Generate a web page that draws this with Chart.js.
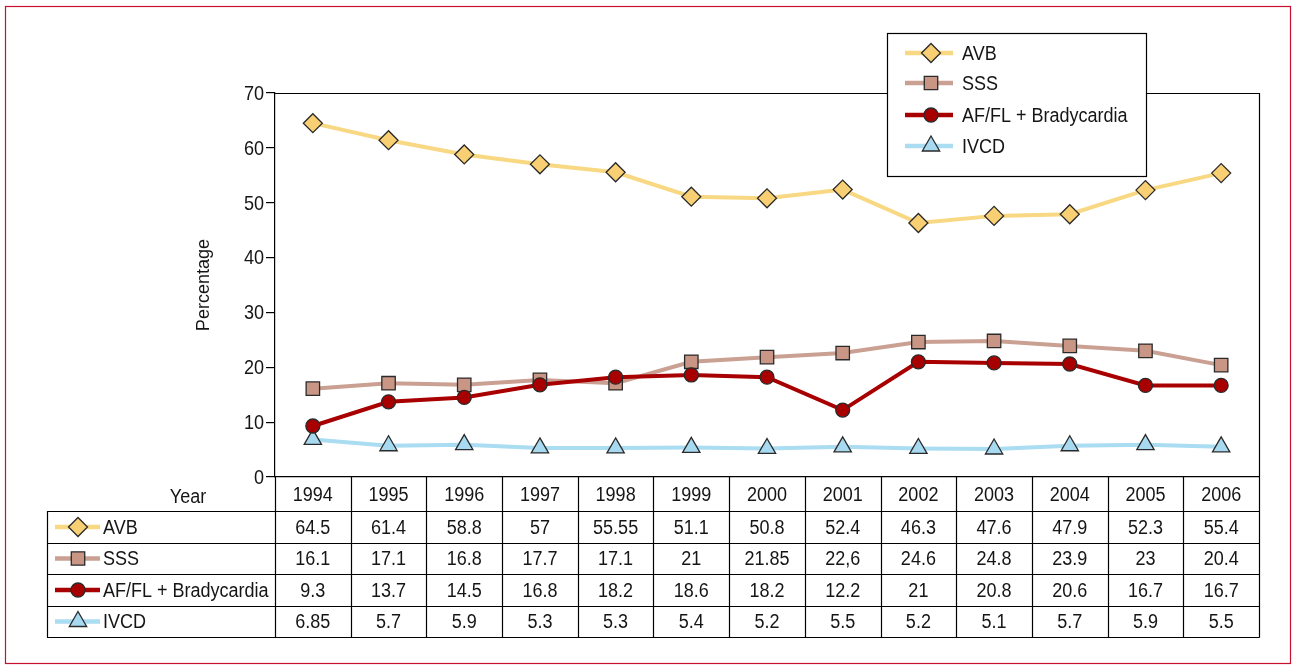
<!DOCTYPE html>
<html>
<head>
<meta charset="utf-8">
<script src="https://cdn.jsdelivr.net/npm/chart.js@4"></script>
<style>
  html, body { margin: 0; padding: 0; background: #fff; }
  #wrap { width: 1297px; height: 669px; position: relative; }
</style>
</head>
<body>
<div id="wrap"><canvas id="chart"></canvas></div>
<script>
// Data
const years = ['1994', '1995', '1996', '1997', '1998', '1999', '2000', '2001', '2002', '2003', '2004', '2005', '2006'];
const avb = [64.5, 61.4, 58.8, 57, 55.55, 51.1, 50.8, 52.4, 46.3, 47.6, 47.9, 52.3, 55.4];
const sss = [16.1, 17.1, 16.8, 17.7, 17.1, 21, 21.85, 22.6, 24.6, 24.8, 23.9, 23, 20.4];
const afl = [9.3, 13.7, 14.5, 16.8, 18.2, 18.6, 18.2, 12.2, 21, 20.8, 20.6, 16.7, 16.7];
const ivcd = [6.85, 5.7, 5.9, 5.3, 5.3, 5.4, 5.2, 5.5, 5.2, 5.1, 5.7, 5.9, 5.5];
// Table text as printed (keeps the original formatting, e.g. "22,6")
const avbText = ['64.5', '61.4', '58.8', '57', '55.55', '51.1', '50.8', '52.4', '46.3', '47.6', '47.9', '52.3', '55.4'];
const sssText = ['16.1', '17.1', '16.8', '17.7', '17.1', '21', '21.85', '22,6', '24.6', '24.8', '23.9', '23', '20.4'];
const aflText = ['9.3', '13.7', '14.5', '16.8', '18.2', '18.6', '18.2', '12.2', '21', '20.8', '20.6', '16.7', '16.7'];
const ivcdText = ['6.85', '5.7', '5.9', '5.3', '5.3', '5.4', '5.2', '5.5', '5.2', '5.1', '5.7', '5.9', '5.5'];
const yTicks = [0, 10, 20, 30, 40, 50, 60, 70];

const FONT = "'Liberation Sans', Arial, sans-serif";
const EDGE = '#2a2a2a';
const INK = '#151515';

const series = [
    { label: 'AVB', data: avb, text: avbText, line: '#f9d883', fill: '#f8cf72', style: 'rectRot', radius: 9.5, order: 0 },
    { label: 'SSS', data: sss, text: sssText, line: '#c9a092', fill: '#c99686', style: 'rect', radius: 9.5, order: 2 },
    { label: 'AF/FL + Bradycardia', data: afl, text: aflText, line: '#a80000', fill: '#a80000', style: 'circle', radius: 7, order: 1 },
    { label: 'IVCD', data: ivcd, text: ivcdText, line: '#aadcf2', fill: '#a7daf0', style: 'triangle', radius: 10, order: 3 }
];

// condensed look: squeeze a regular sans horizontally
function narrowText(ctx, str, x, y, align, size, squeeze) {
    ctx.save();
    ctx.font = size + 'px ' + FONT;
    ctx.fillStyle = INK;
    ctx.textAlign = align;
    ctx.textBaseline = 'middle';
    ctx.translate(x, y);
    ctx.scale(squeeze, 1);
    ctx.fillText(str, 0, 0);
    ctx.restore();
}

function drawMarker(ctx, s, x, y) {
    ctx.fillStyle = s.fill;
    ctx.strokeStyle = EDGE;
    ctx.lineWidth = 1.3;
    Chart.helpers.drawPoint(ctx, {
        pointStyle: s.style,
        radius: s.radius,
        borderWidth: 1.3,
        rotation: 0
    }, x, y);
}

function drawSample(ctx, s, x1, x2, mx, y) {
    ctx.strokeStyle = s.line;
    ctx.lineWidth = 4.5;
    ctx.beginPath();
    ctx.moveTo(x1, y);
    ctx.lineTo(x2, y);
    ctx.stroke();
    drawMarker(ctx, s, mx, y);
}

// Frame, plot box, legend and data table
const extras = {
    id: 'extras',
    beforeDraw(chart) {
        const ctx = chart.ctx;
        ctx.save();
        ctx.strokeStyle = '#c8102e';
        ctx.lineWidth = 1.2;
        ctx.strokeRect(5.5, 6.5, 1285, 657);
        ctx.restore();
    },
    afterDraw(chart) {
        const ctx = chart.ctx;
        const area = chart.chartArea;
        const xs = chart.scales.x;
        const ys = chart.scales.y;
        ctx.save();

        // top and right edges of the plot
        ctx.strokeStyle = '#000';
        ctx.lineWidth = 1.2;
        ctx.beginPath();
        ctx.moveTo(area.left, area.top + 0.5);
        ctx.lineTo(area.right + 0.5, area.top + 0.5);
        ctx.lineTo(area.right + 0.5, area.bottom);
        ctx.stroke();

        // y tick labels
        yTicks.forEach(v => {
            narrowText(ctx, String(v), 264, ys.getPixelForValue(v) + 1, 'right', 21, 0.86);
        });

        // y axis title
        ctx.save();
        ctx.translate(204, 285);
        ctx.rotate(-Math.PI / 2);
        narrowText(ctx, 'Percentage', 0, 0, 'center', 19, 0.95);
        ctx.restore();

        // legend box
        ctx.fillStyle = '#fff';
        ctx.fillRect(887, 33, 260, 144);
        ctx.strokeStyle = '#000';
        ctx.lineWidth = 1.2;
        ctx.strokeRect(887.5, 33.5, 259, 143);
        const legendY = [53, 83, 115, 146];
        series.forEach((s, i) => {
            const y = legendY[i];
            drawSample(ctx, s, 905, 953, 931, y);
            narrowText(ctx, s.label, 962, y + 1, 'left', 20, 0.9);
        });

        // data table
        const tLeft = 47, tRight = area.right + 0.5;
        const rowLines = [area.bottom, 511, 543, 574, 606, 637];
        const colW = (area.right - area.left) / years.length;
        ctx.strokeStyle = '#000';
        ctx.lineWidth = 1.2;
        ctx.beginPath();
        for (let r = 1; r < rowLines.length; r++) {
            ctx.moveTo(tLeft, rowLines[r] + 0.5);
            ctx.lineTo(tRight, rowLines[r] + 0.5);
        }
        ctx.moveTo(tLeft + 0.5, rowLines[1]);
        ctx.lineTo(tLeft + 0.5, rowLines[5] + 0.5);
        for (let c = 0; c <= years.length; c++) {
            const x = Math.round(area.left + c * colW) + 0.5;
            ctx.moveTo(x, area.bottom);
            ctx.lineTo(x, rowLines[5] + 0.5);
        }
        ctx.stroke();

        narrowText(ctx, 'Year', 188, 497, 'center', 20, 0.9);
        years.forEach((yr, i) => {
            const cx = xs.getPixelForValue(i);
            narrowText(ctx, yr, cx, 495, 'center', 20, 0.9);
            series.forEach((s, r) => {
                const cy = (rowLines[r + 1] + rowLines[r + 2]) / 2 + 1;
                narrowText(ctx, s.text[i], cx, cy, 'center', 20, 0.9);
            });
        });
        series.forEach((s, r) => {
            const cy = (rowLines[r + 1] + rowLines[r + 2]) / 2;
            drawSample(ctx, s, 55, 100, 78, cy);
            narrowText(ctx, s.label, 103, cy + 1, 'left', 20, 0.9);
        });
        ctx.restore();
    }
};

new Chart(document.getElementById('chart'), {
    type: 'line',
    data: {
        labels: years,
        datasets: series.map(s => ({
            label: s.label,
            data: s.data,
            order: s.order,
            borderColor: s.line,
            borderWidth: 4,
            backgroundColor: s.fill,
            pointStyle: s.style,
            pointRadius: s.radius,
            pointHoverRadius: s.radius,
            pointBackgroundColor: s.fill,
            pointBorderColor: EDGE,
            pointBorderWidth: 1.3,
            tension: 0
        }))
    },
    options: {
        responsive: true,
        maintainAspectRatio: false,
        animation: false,
        events: [],
        layout: { padding: { left: 0, right: 38, top: 93, bottom: 0 } },
        plugins: {
            legend: { display: false },
            tooltip: { enabled: false }
        },
        scales: {
            x: {
                type: 'category',
                offset: true,
                grid: { display: false, drawTicks: false },
                border: { display: true, color: '#000', width: 1.2 },
                ticks: { display: false },
                afterFit(scale) { scale.height = 669 - 477; }
            },
            y: {
                min: 0,
                max: 70,
                afterBuildTicks(scale) { scale.ticks = yTicks.map(v => ({ value: v })); },
                grid: { drawOnChartArea: false, drawTicks: true, tickLength: 9, color: '#000', lineWidth: 1.2 },
                border: { display: true, color: '#000', width: 1.2 },
                ticks: { color: 'rgba(0,0,0,0)', font: { family: FONT, size: 20 } },
                afterFit(scale) { scale.width = 275; }
            }
        }
    },
    plugins: [extras]
});
</script>
</body>
</html>
